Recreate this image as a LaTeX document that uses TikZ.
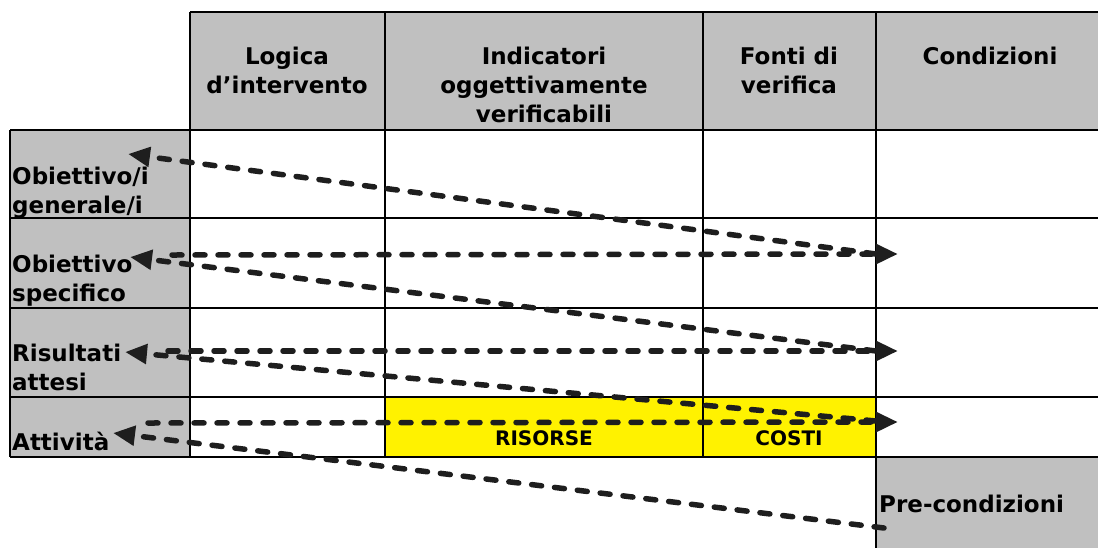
\documentclass[tikz,border=0pt]{standalone}
\usepackage{fontspec}
\setmainfont{DejaVu Sans}
\usetikzlibrary{arrows.meta}
\definecolor{cellgray}{HTML}{C0C0C0}
\definecolor{darkline}{HTML}{1E1E1E}

\begin{document}
\begin{tikzpicture}[x=1pt, y=-1pt,
        txt/.style={font=\bfseries\fontsize{23}{29}\selectfont, inner sep=0pt},
        small/.style={font=\bfseries\fontsize{20}{24}\selectfont, inner sep=0pt},
        grid/.style={line width=2pt, black},
        flow/.style={draw=darkline, line width=5.5pt, line cap=round, dash pattern=on 10pt off 13pt, -{Triangle[length=22pt, width=19pt]}}]

        \useasboundingbox (0, 0) rectangle (1098, 547);

        \fill[cellgray] (190, 12) rectangle (1100, 130);
        \fill[cellgray] (10, 130) rectangle (190, 457);
        \fill[yellow] (385, 397) rectangle (876, 457);
        \fill[cellgray] (876, 457) rectangle (1100, 550);

        \draw[grid] (190, 12) -- (1100, 12);
        \foreach \y in {130, 218, 308, 397, 457}
            \draw[grid] (10, \y) -- (1100, \y);
        \draw[grid] (10, 130) -- (10, 457);
        \foreach \x in {190, 385, 703}
            \draw[grid] (\x, 12) -- (\x, 457);
        \draw[grid] (876, 12) -- (876, 550);

        \node[txt, align=center, anchor=north] (logica) at (287, 47) {Logica\\d’intervento};
        \node[txt, align=center, anchor=north] (indic) at (544, 47) {Indicatori\\oggettivamente\\verificabili};
        \node[txt, align=center, anchor=north] (fonti) at (789, 47) {Fonti di\\verifica};
        \node[txt, align=center, anchor=north] (condiz) at (990, 47) {Condizioni};

        \node[txt, align=left, anchor=north west] (gen) at (12, 167) {Obiettivo/i\\generale/i};
        \node[txt, align=left, anchor=north west] (spec) at (12, 255) {Obiettivo\\specifico};
        \node[txt, align=left, anchor=north west] (ris) at (12, 344) {Risultati\\attesi};
        \node[txt, anchor=base west] (att) at (12, 450) {Attività};
        \node[txt, anchor=base west] (pre) at (879, 512) {Pre-condizioni};

        \node[small, anchor=base] (risorse) at (544, 445) {RISORSE};
        \node[small, anchor=base] (costi) at (789, 445) {COSTI};

        \coordinate (g1) at (128, 154);
        \coordinate (s1) at (130, 257);
        \coordinate (r1) at (125, 352);
        \coordinate (a1) at (113, 433);
        \coordinate (s2) at (172, 255);
        \coordinate (r2) at (168, 351);
        \coordinate (a2) at (148, 423);
        \coordinate (c2) at (898, 254);
        \coordinate (c3) at (898, 351);
        \coordinate (c4) at (898, 422);
        \coordinate (c2s) at (876, 254);
        \coordinate (c3s) at (876, 351);
        \coordinate (c4s) at (876, 421);
        \coordinate (p1) at (884, 528);

        \draw[flow] (c2s) -- (g1);
        \draw[flow] (s2) -- (c2);
        \draw[flow] (c3s) -- (s1);
        \draw[flow] (r2) -- (c3);
        \draw[flow] (c4s) -- (r1);
        \draw[flow] (a2) -- (c4);
        \draw[flow] (p1) -- (a1);
\end{tikzpicture}
\end{document}
